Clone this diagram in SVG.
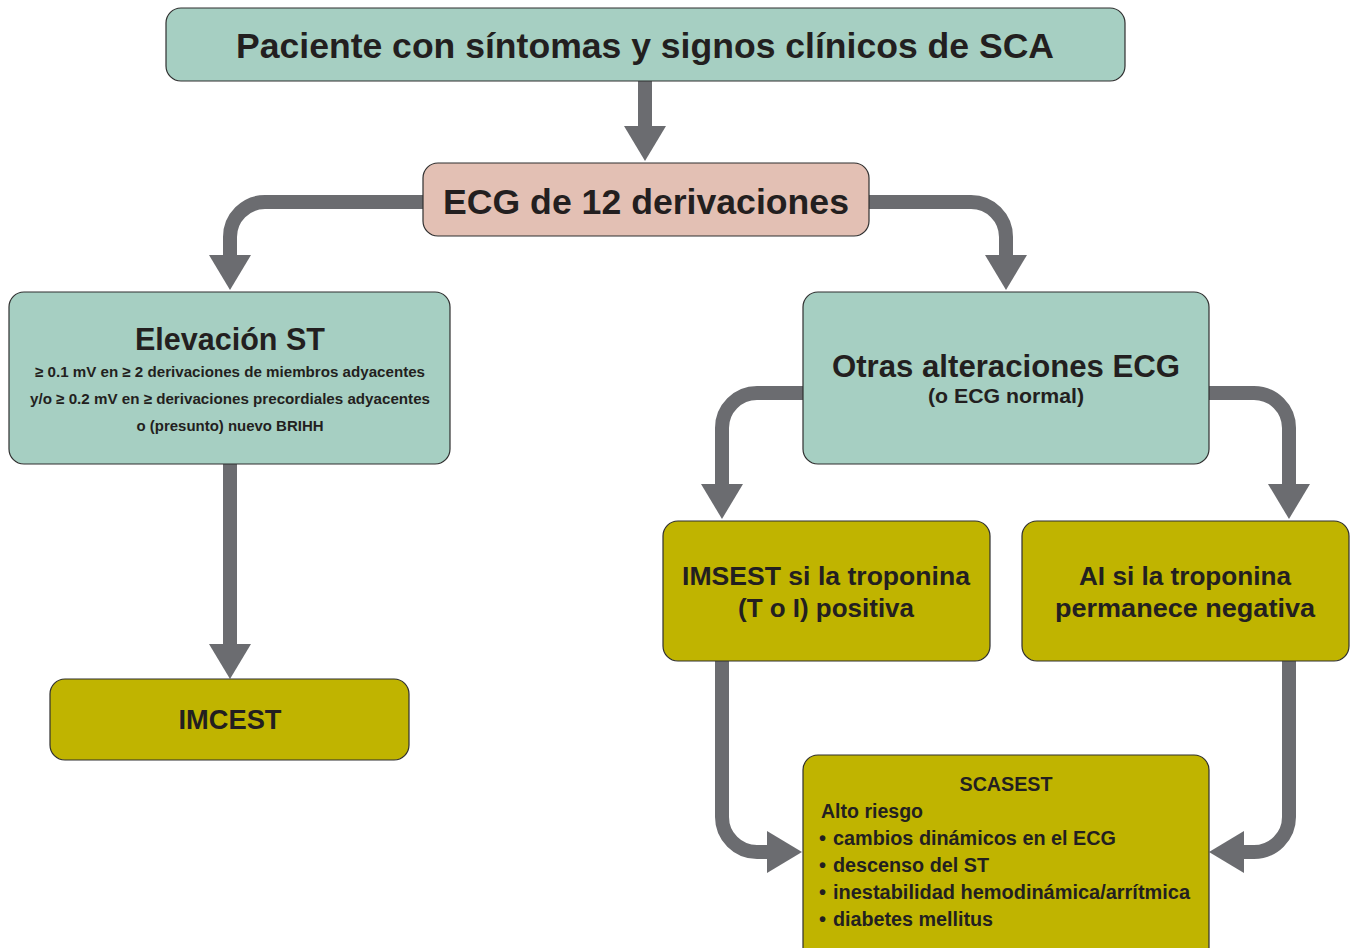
<svg xmlns="http://www.w3.org/2000/svg" width="1356" height="948" viewBox="0 0 1356 948">
<style>
.box{stroke:#2f2f2f;stroke-width:1.2}
.g{fill:#a6cfc2}
.p{fill:#e3c0b4}
.o{fill:#c0b400}
.conn{fill:none;stroke:#6b6c70;stroke-width:14}
text{font-family:"Liberation Sans",Arial,sans-serif;font-weight:bold;fill:#231f20}
.c{text-anchor:middle}
</style>
<defs>
<marker id="ah" markerUnits="userSpaceOnUse" markerWidth="40" markerHeight="44" refX="0" refY="21" orient="auto" overflow="visible">
<path d="M0 0 L35 21 L0 42 Z" fill="#6b6c70"/>
</marker>
</defs>
<rect width="1356" height="948" fill="#ffffff"/>
<g id="connectors">
<path class="conn" d="M645 81 V126" marker-end="url(#ah)"/>
<path class="conn" d="M423 202 H265 A35 35 0 0 0 230 237 V255" marker-end="url(#ah)"/>
<path class="conn" d="M869 202 H971 A35 35 0 0 1 1006 237 V255" marker-end="url(#ah)"/>
<path class="conn" d="M230 464 V644" marker-end="url(#ah)"/>
<path class="conn" d="M803 393 H757 A35 35 0 0 0 722 428 V484" marker-end="url(#ah)"/>
<path class="conn" d="M1209 393 H1254 A35 35 0 0 1 1289 428 V484" marker-end="url(#ah)"/>
<path class="conn" d="M722 661 V817 A35 35 0 0 0 757 852 H767" marker-end="url(#ah)"/>
<path class="conn" d="M1289 661 V817 A35 35 0 0 1 1254 852 H1244" marker-end="url(#ah)"/>
</g>
<g id="n-paciente">
<rect class="box g" x="166" y="8" width="959" height="73" rx="15"/>
<text class="c" x="645" y="58" font-size="35" textLength="818" lengthAdjust="spacingAndGlyphs">Paciente con síntomas y signos clínicos de SCA</text>
</g>
<g id="n-ecg">
<rect class="box p" x="423" y="163" width="446" height="73" rx="15"/>
<text class="c" x="646" y="214" font-size="35" textLength="406" lengthAdjust="spacingAndGlyphs">ECG de 12 derivaciones</text>
</g>
<g id="n-elevacion">
<rect class="box g" x="9" y="292" width="441" height="172" rx="15"/>
<text class="c" x="230" y="350" font-size="30.5" textLength="190" lengthAdjust="spacingAndGlyphs">Elevación ST</text>
<text class="c" x="230" y="377" font-size="15" textLength="390" lengthAdjust="spacingAndGlyphs">≥ 0.1 mV en ≥ 2 derivaciones de miembros adyacentes</text>
<text class="c" x="230" y="404" font-size="15" textLength="400" lengthAdjust="spacingAndGlyphs">y/o ≥ 0.2 mV en ≥ derivaciones precordiales adyacentes</text>
<text class="c" x="230" y="431" font-size="15" textLength="187" lengthAdjust="spacingAndGlyphs">o (presunto) nuevo BRIHH</text>
</g>
<g id="n-otras">
<rect class="box g" x="803" y="292" width="406" height="172" rx="15"/>
<text class="c" x="1006" y="377" font-size="31" textLength="348" lengthAdjust="spacingAndGlyphs">Otras alteraciones ECG</text>
<text class="c" x="1006" y="403" font-size="20.5" textLength="156" lengthAdjust="spacingAndGlyphs">(o ECG normal)</text>
</g>
<g id="n-imcest">
<rect class="box o" x="50" y="679" width="359" height="81" rx="15"/>
<text class="c" x="230" y="729" font-size="27" textLength="103" lengthAdjust="spacingAndGlyphs">IMCEST</text>
</g>
<g id="n-imsest">
<rect class="box o" x="663" y="521" width="327" height="140" rx="15"/>
<text class="c" x="826" y="585" font-size="26.5" textLength="288" lengthAdjust="spacingAndGlyphs">IMSEST si la troponina</text>
<text class="c" x="826" y="617" font-size="26.5" textLength="176" lengthAdjust="spacingAndGlyphs">(T o I) positiva</text>
</g>
<g id="n-ai">
<rect class="box o" x="1022" y="521" width="327" height="140" rx="15"/>
<text class="c" x="1185" y="585" font-size="26.5" textLength="212" lengthAdjust="spacingAndGlyphs">AI si la troponina</text>
<text class="c" x="1185" y="617" font-size="26.5" textLength="260" lengthAdjust="spacingAndGlyphs">permanece negativa</text>
</g>
<g id="n-scasest">
<rect class="box o" x="803" y="755" width="406" height="210" rx="15"/>
<text class="c" x="1006" y="791" font-size="20" textLength="93" lengthAdjust="spacingAndGlyphs">SCASEST</text>
<text x="821" y="818" font-size="20" textLength="102" lengthAdjust="spacingAndGlyphs">Alto riesgo</text>
<text x="819" y="845" font-size="20">•</text>
<text x="833" y="845" font-size="20" textLength="283" lengthAdjust="spacingAndGlyphs">cambios dinámicos en el ECG</text>
<text x="819" y="872" font-size="20">•</text>
<text x="833" y="872" font-size="20" textLength="156" lengthAdjust="spacingAndGlyphs">descenso del ST</text>
<text x="819" y="899" font-size="20">•</text>
<text x="833" y="899" font-size="20" textLength="357" lengthAdjust="spacingAndGlyphs">inestabilidad hemodinámica/arrítmica</text>
<text x="819" y="926" font-size="20">•</text>
<text x="833" y="926" font-size="20" textLength="160" lengthAdjust="spacingAndGlyphs">diabetes mellitus</text>
</g>
</svg>
